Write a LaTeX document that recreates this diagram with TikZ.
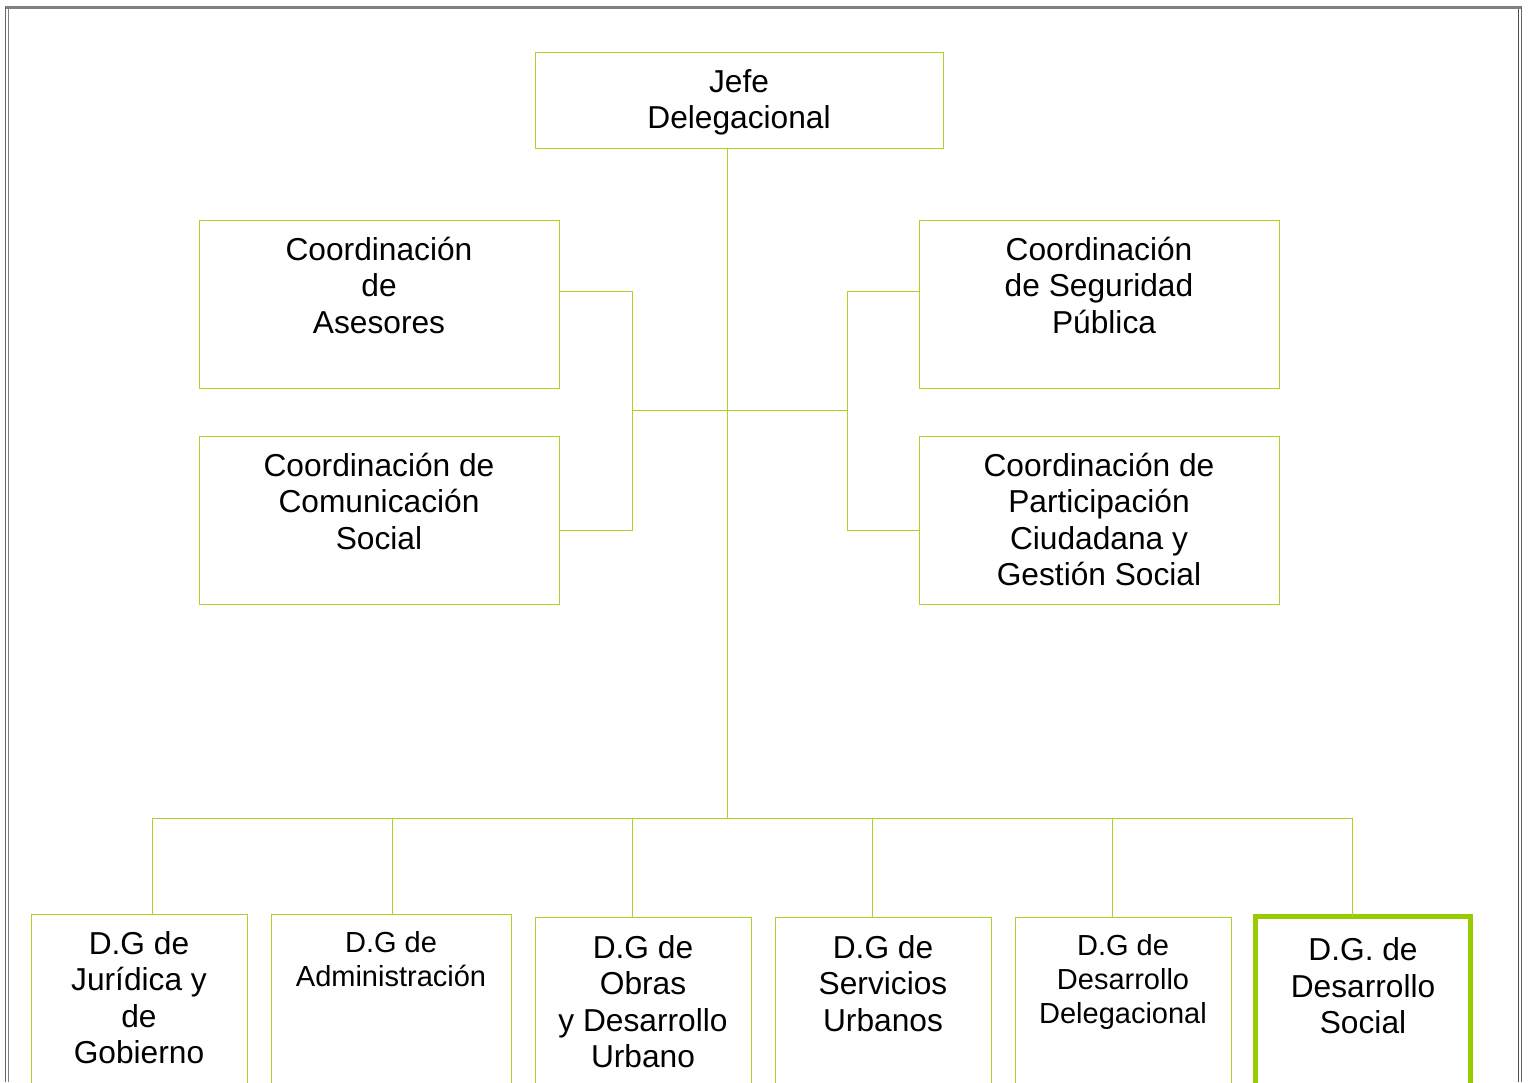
\documentclass[tikz,border=0pt]{standalone}
\usepackage{fontspec}
\setmainfont{Liberation Sans}
\usetikzlibrary{positioning}
\definecolor{leaf}{RGB}{153,204,0}
\newcommand{\bigtxt}{\fontsize{15.85pt}{18.25pt}\selectfont}
\newcommand{\smalltxt}{\fontsize{14.5pt}{17pt}\selectfont}
\newcommand{\cell}[4]{\parbox[c][#2][t]{#1}{\centering\bigtxt\rule{0pt}{#3}#4\par}}

\begin{document}
\begin{tikzpicture}[x=0.5pt,y=-0.5pt,
	orgbox/.style={draw=leaf!85, line width=0.45pt, inner sep=0pt, outer sep=0pt, anchor=north west},
	mainbox/.style={orgbox, draw=leaf, line width=2.5pt},
	link/.style={draw=leaf!85, line width=0.45pt}]
	\useasboundingbox (0,0) rectangle (1529,1082);
	\clip (0,0) rectangle (1529,1082);
	% page frame
	\draw[gray, line width=1.5pt](5,7.5)--(1522,7.5);
	\draw[black!60, line width=0.6pt](5.5,7)--(5.5,1082);
	\draw[gray, line width=0.6pt](8.5,9)--(8.5,1082);
	\draw[black!70, line width=0.6pt](1518.5,9)--(1518.5,1082);
	\draw[black!60, line width=0.6pt](1521.5,7)--(1521.5,1082);

	\node[orgbox] (jefe) at (535,52) {\cell{204pt}{48pt}{20pt}{Jefe\\Delegacional}};
	\node[orgbox] (ases) at (199,220) {\cell{180pt}{84pt}{20pt}{Coordinación\\de\\Asesores}};
	\node[orgbox] (comu) at (199,436) {\cell{180pt}{84pt}{20pt}{Coordinación de\\Comunicación\\Social}};
	\node[orgbox] (segu) at (919,220) {\cell{180pt}{84pt}{20pt}{Coordinación\\de Seguridad\\\hspace{5pt}Pública}};
	\node[orgbox] (part) at (919,436) {\cell{180pt}{84pt}{20pt}{Coordinación de\\Participación\\Ciudadana y\\Gestión Social}};

	\node[orgbox] (dg1) at (31,914) {\cell{108pt}{100pt}{20pt}{D.G de\\Jurídica y\\de\\Gobierno}};
	\node[orgbox] (dg2) at (271,914) {\cell{120pt}{100pt}{19.2pt}{\smalltxt D.G de\\Administración}};
	\node[orgbox] (dg3) at (535,917) {\cell{108pt}{100pt}{20.6pt}{D.G de\\Obras\\y Desarrollo\\Urbano}};
	\node[orgbox] (dg4) at (775,917) {\cell{108pt}{100pt}{20.6pt}{D.G de\\Servicios\\Urbanos}};
	\node[orgbox] (dg5) at (1015,917) {\cell{108pt}{100pt}{19.2pt}{\smalltxt D.G de\\Desarrollo\\Delegacional}};
	\node[mainbox] (dg6) at (1255.5,916.5) {\cell{107.5pt}{100pt}{22.2pt}{D.G. de\\Desarrollo\\Social}};

	\coordinate (lhub) at (632,410);
	\coordinate (rhub) at (847,410);
	\coordinate (bus) at (727,818);
	\foreach \i in {1,...,6}{
		\coordinate (t\i) at (-88+240*\i,818);
	}

	\draw[link] (jefe.south -| bus) -- (bus);
	\draw[link] (lhub) -- (rhub);
	\draw[link] ([yshift=6.5pt]ases.east) -| (lhub) |- ([yshift=-5pt]comu.east);
	\draw[link] ([yshift=6.5pt]segu.west) -| (rhub) |- ([yshift=-5pt]part.west);
	\draw[link] (t1) -- (t6);
	\foreach \i in {1,...,6}{
		\draw[link] (t\i) -- (t\i |- dg\i.north);
	}
\end{tikzpicture}
\end{document}
